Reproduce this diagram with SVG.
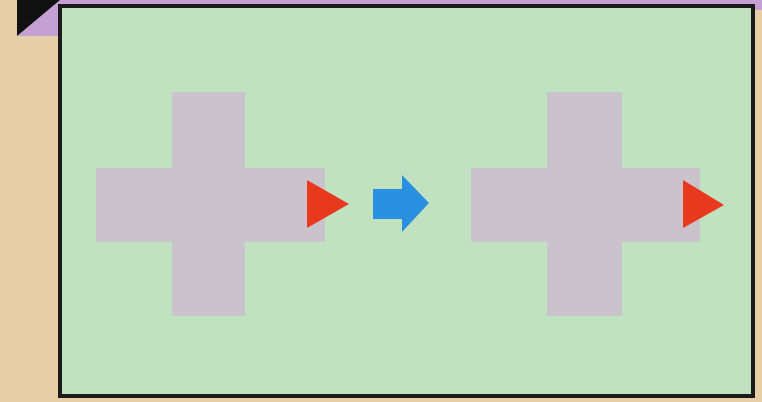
<svg xmlns="http://www.w3.org/2000/svg" width="762" height="402" viewBox="0 0 762 402">
<style>
.cross{fill:#cac3cc}
.tri{fill:#e8381e}
</style>
<rect x="0" y="0" width="762" height="402" fill="#e6cfa6"/>
<rect x="17" y="0" width="745" height="10" fill="#c4a0d4"/>
<rect x="17" y="0" width="45" height="36" fill="#c4a0d4"/>
<polygon points="17,0 60,0 17,36" fill="#111"/>
<rect x="60" y="6" width="693" height="390" fill="#c0e2c0" stroke="#1c1a1a" stroke-width="4"/>
<g id="cross1">
<rect class="cross" x="172" y="92" width="73" height="224"/>
<rect class="cross" x="96" y="168" width="229" height="74"/>
<polygon class="tri" points="307,180 349,204 307,228"/>
</g>
<g id="arrow">
<polygon points="373,189 402,189 402,175 429,203 402,232 402,219 373,219" fill="#2b8fe0"/>
</g>
<g id="cross2">
<rect class="cross" x="547" y="92" width="75" height="224"/>
<rect class="cross" x="471" y="168" width="229" height="74"/>
<polygon class="tri" points="683,180 724,205 683,228"/>
</g>
</svg>
